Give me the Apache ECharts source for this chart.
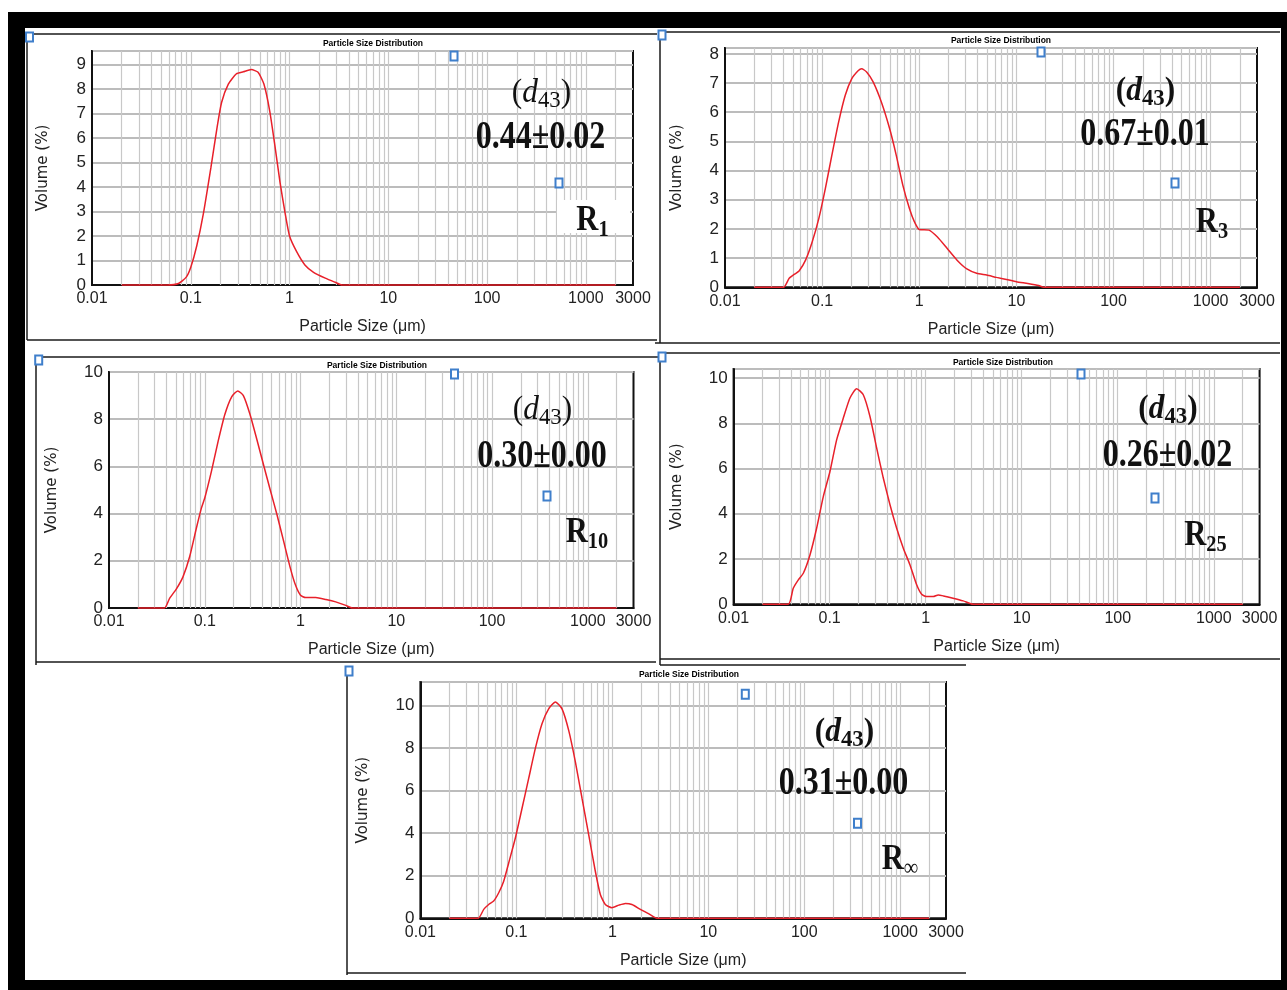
<!DOCTYPE html>
<html>
<head>
<meta charset="utf-8">
<script src="https://cdn.jsdelivr.net/npm/echarts@6/dist/echarts.min.js"></script>
<style>
html,body{margin:0;padding:0;background:#fff;}
#frame{position:absolute;left:8px;top:12px;width:1279px;height:978px;background:#000;}
#inner{position:absolute;left:25px;top:28px;width:1256px;height:952px;background:#fff;}
#c{position:absolute;left:0;top:0;width:1287px;height:990px;}
</style>
</head>
<body>
<div id="frame"></div>
<div id="inner"></div>
<div id="c"></div>
<script>
// ---------- data ----------
const r1Sizes  = [0.02, 0.058, 0.075, 0.09, 0.1, 0.115, 0.134, 0.16, 0.185, 0.205, 0.24, 0.29, 0.34, 0.41, 0.48, 0.55, 0.63, 0.71, 0.8, 0.9, 1.0, 1.18, 1.43, 1.75, 2.3, 2.9, 3.4, 2000];
const r1Volume = [0, 0, 0.06, 0.32, 0.72, 1.6, 2.9, 4.8, 6.45, 7.45, 8.2, 8.62, 8.7, 8.79, 8.68, 8.2, 7.1, 5.7, 4.2, 2.95, 2.0, 1.36, 0.82, 0.52, 0.28, 0.11, 0, 0];

const r3Sizes  = [0.02, 0.04, 0.0458, 0.0515, 0.0579, 0.0677, 0.0791, 0.0925, 0.108, 0.126, 0.148, 0.173, 0.202, 0.236, 0.255, 0.287, 0.335, 0.407, 0.495, 0.579, 0.677, 0.792, 0.89, 1.0, 1.26, 1.53, 1.94, 2.45, 3.09, 3.9, 4.94, 6.25, 7.9, 10, 13.1, 17, 19, 2000];
const r3Volume = [0, 0, 0.31, 0.44, 0.56, 0.94, 1.56, 2.36, 3.39, 4.53, 5.67, 6.58, 7.15, 7.43, 7.49, 7.38, 7.04, 6.35, 5.44, 4.53, 3.5, 2.7, 2.25, 1.98, 1.96, 1.73, 1.33, 0.93, 0.63, 0.48, 0.42, 0.34, 0.27, 0.19, 0.13, 0.06, 0, 0];

const r10Sizes  = [0.02, 0.0379, 0.0428, 0.0504, 0.0592, 0.0695, 0.0817, 0.0922, 0.1, 0.1175, 0.138, 0.162, 0.191, 0.221, 0.253, 0.297, 0.35, 0.41, 0.483, 0.568, 0.668, 0.784, 0.886, 1.0, 1.13, 1.44, 1.84, 2.33, 2.97, 3.49, 2000];
const r10Volume = [0, 0, 0.4, 0.8, 1.32, 2.17, 3.38, 4.23, 4.66, 5.8, 7.07, 8.2, 8.95, 9.2, 9.0, 8.2, 7.14, 6.08, 5.0, 3.95, 2.81, 1.68, 0.97, 0.54, 0.44, 0.44, 0.36, 0.26, 0.11, 0, 0];

const r25Sizes  = [0.02, 0.0371, 0.0418, 0.0472, 0.0532, 0.0624, 0.0732, 0.0859, 0.1008, 0.1183, 0.1388, 0.1628, 0.191, 0.224, 0.263, 0.309, 0.362, 0.425, 0.499, 0.585, 0.687, 0.806, 0.908, 1.02, 1.2, 1.35, 1.53, 1.93, 2.46, 3.13, 2000];
const r25Volume = [0, 0, 0.71, 1.08, 1.37, 2.18, 3.36, 4.76, 5.87, 7.27, 8.23, 9.12, 9.53, 9.26, 8.3, 6.9, 5.58, 4.4, 3.36, 2.48, 1.74, 0.86, 0.44, 0.34, 0.34, 0.41, 0.37, 0.27, 0.15, 0, 0];

const rInfSizes  = [0.02, 0.0399, 0.0457, 0.0515, 0.058, 0.0655, 0.0738, 0.0832, 0.0976, 0.1146, 0.1344, 0.1577, 0.185, 0.217, 0.255, 0.299, 0.351, 0.412, 0.483, 0.567, 0.665, 0.75, 0.845, 0.99, 1.17, 1.37, 1.6, 1.96, 2.38, 2.8, 2.9, 2000];
const rInfVolume = [0, 0, 0.42, 0.65, 0.81, 1.2, 1.74, 2.6, 3.77, 5.17, 6.57, 7.98, 9.14, 9.84, 10.16, 9.84, 8.83, 7.35, 5.64, 3.93, 2.21, 1.12, 0.65, 0.5, 0.62, 0.7, 0.65, 0.42, 0.22, 0.03, 0, 0];

const sampleSubscripts = ['1', '3', '10', '25', '\u221E'];
const d43Values = ['0.44\u00B10.02', '0.67\u00B10.01', '0.30\u00B10.00', '0.26\u00B10.02', '0.31\u00B10.00'];
const yMaxValues = [9.55, 8.2, 10, 10.4, 11.1];
const yIntervals = [1, 1, 2, 2, 2];
const xMin = 0.01, xMax = 3000;

const allSizes = [r1Sizes, r3Sizes, r10Sizes, r25Sizes, rInfSizes];
const allVolumes = [r1Volume, r3Volume, r10Volume, r25Volume, rInfVolume];

// ---------- layout ----------
const layout = [
  {left: 92,    top: 51,  width: 541,   height: 234,   gapY: 41, title: [373, 43.5],  d43: [541.5, 93],  val: [540.5, 138], r: [592.5, 221], boldD: false},
  {left: 725,   top: 48,  width: 532,   height: 239.3, gapY: 40, title: [1001, 41],   d43: [1145.5, 91], val: [1145, 135],  r: [1212, 223],  boldD: true},
  {left: 109,   top: 372, width: 524.5, height: 236,   gapY: 49, title: [377, 366],   d43: [542.5, 410], val: [542, 456.5], r: [587, 533],   boldD: false},
  {left: 733.6, top: 369, width: 526,   height: 235.3, gapY: 49, title: [1003, 362.5],d43: [1168, 409],  val: [1167.5, 456],r: [1205.5, 536],boldD: true},
  {left: 420.4, top: 682, width: 525.6, height: 236.3, gapY: 50, title: [689, 674.5], d43: [844.5, 732], val: [843.5, 784], r: [900, 860],   boldD: true}
];

// vertical grid positions (1..9 x each decade inside the axis range)
const gridSizes = [];
for (let k = -2; k <= 3; k++) {
  for (let m = 1; m <= 9; m++) {
    const v = Number((m * Math.pow(10, k)).toPrecision(3));
    if (v > xMin && v < xMax) gridSizes.push(v);
  }
}

const sans = "'Liberation Sans',Arial,sans-serif";
const serif = "'Liberation Serif','DejaVu Serif',serif";

const grids = [], xAxes = [], yAxes = [], series = [], titles = [], graphics = [];

layout.forEach((p, i) => {
  grids.push({left: p.left, top: p.top, width: p.width, height: p.height, show: true,
    borderColor: '#111', borderWidth: 2, backgroundColor: 'transparent', containLabel: false});
  xAxes.push({
    type: 'log', logBase: 10, gridIndex: i, min: xMin, max: xMax,
    name: 'Particle Size (\u03BCm)', nameLocation: 'middle', nameGap: 34,
    nameTextStyle: {fontFamily: sans, fontSize: 16, color: '#222'},
    axisLine: {show: true, lineStyle: {color: '#111', width: 2}},
    axisTick: {show: false},
    splitLine: {show: false},
    axisLabel: {interval: 0, showMinLabel: true, showMaxLabel: true, margin: 6,
      fontFamily: sans, fontSize: 16, color: '#222',
      formatter: v => String(Number(Number(v).toPrecision(4)))}
  });
  const ymax = yMaxValues[i], yint = yIntervals[i];
  yAxes.push({
    type: 'value', gridIndex: i, min: 0, max: ymax, interval: yint,
    name: 'Volume (%)', nameLocation: 'middle', nameGap: p.gapY, nameRotate: 90,
    nameTextStyle: {fontFamily: "'DejaVu Sans',sans-serif", fontSize: 15, color: '#222'},
    axisLine: {show: true, lineStyle: {color: '#111', width: 2}},
    axisTick: {show: false},
    splitLine: {show: true, lineStyle: {color: '#bcbcbc', width: 2}},
    axisLabel: {margin: 6, fontFamily: sans, fontSize: 17, color: '#222',
      showMaxLabel: (Math.abs(ymax / yint - Math.round(ymax / yint)) < 1e-9)}
  });
  series.push({
    type: 'line', xAxisIndex: i, yAxisIndex: i,
    data: allSizes[i].map((s, j) => [s, allVolumes[i][j]]),
    showSymbol: false, symbol: 'none', smooth: 0.2, clip: false, z: 3,
    silent: true, animation: false,
    lineStyle: {color: '#e8202a', width: 1.5},
    emphasis: {disabled: true},
    markLine: {
      silent: true, symbol: ['none', 'none'], animation: false, z: 1,
      label: {show: false}, emphasis: {disabled: true},
      lineStyle: {color: '#c8c8c8', width: 1.2, type: 'solid'},
      data: gridSizes.map(v => ({xAxis: v}))
    }
  });
  titles.push({
    text: 'Particle Size Distribution', left: p.title[0], top: p.title[1],
    textAlign: 'center', textVerticalAlign: 'middle', padding: 0,
    textStyle: {fontFamily: sans, fontWeight: 'bold', fontSize: 8.5, color: '#000'}
  });

  const bw = p.boldD ? 'bold' : 'normal';
  graphics.push({
    type: 'text', x: p.d43[0], y: p.d43[1], scaleX: 0.95, z: 100,
    style: {
      text: '{p|(}{d|d}{s|43}{p|)}',
      align: 'center', verticalAlign: 'middle', textAlign: 'center', textVerticalAlign: 'middle',
      fill: '#111',
      rich: {
        p: {fontFamily: serif, fontSize: 33, fontWeight: bw, lineHeight: 40, verticalAlign: 'middle', fill: '#111'},
        d: {fontFamily: serif, fontSize: 33, fontWeight: bw, fontStyle: 'italic', lineHeight: 40, verticalAlign: 'middle', fill: '#111'},
        s: {fontFamily: serif, fontSize: 24, fontWeight: bw, lineHeight: 24, verticalAlign: 'bottom', fill: '#111'}
      }
    }
  });
  graphics.push({
    type: 'text', x: p.val[0], y: p.val[1], scaleX: 0.82, z: 100,
    style: {
      text: d43Values[i], fontFamily: serif, fontSize: 39, fontWeight: 'bold',
      align: 'center', verticalAlign: 'middle', textAlign: 'center', textVerticalAlign: 'middle',
      fill: '#111'
    }
  });
  const subW = (i === 4) ? 'normal' : 'bold';
  graphics.push({
    type: 'text', x: p.r[0], y: p.r[1], scaleX: 0.85, z: 100,
    style: {
      text: '{r|R}{s|' + sampleSubscripts[i] + '}',
      align: 'center', verticalAlign: 'middle', textAlign: 'center', textVerticalAlign: 'middle',
      fill: '#111',
      rich: {
        r: {fontFamily: serif, fontSize: 36, fontWeight: 'bold', lineHeight: 42, verticalAlign: 'middle', fill: '#111'},
        s: {fontFamily: serif, fontSize: 24, fontWeight: subW, lineHeight: 24, verticalAlign: 'bottom', fill: '#111'}
      }
    }
  });
});

// white box behind R1 label
graphics.push({type: 'rect', z: 50, shape: {x: 557, y: 200, width: 73, height: 33}, style: {fill: '#fff'}});

// panel outlines
const panelLines = [
  [27, 34, 657, 34], [27, 34, 27, 340], [27, 340, 657, 340],
  [660, 32, 1280, 32], [660, 32, 660, 343], [655, 343, 1280, 343],
  [36, 357, 658, 357], [36, 357, 36, 665], [36, 662, 656, 662],
  [660, 353, 1280, 353], [660, 353, 660, 665], [660, 659, 1280, 659],
  [660, 665, 966, 665], [347, 668, 347, 975], [347, 973, 966, 973]
];
panelLines.forEach(l => graphics.push({type: 'line', z: 20, shape: {x1: l[0], y1: l[1], x2: l[2], y2: l[3]},
  style: {stroke: '#1a1a1a', lineWidth: 1.5}}));

// small blue object handles
const handles = [[29.5, 37], [454, 56], [559, 183], [662, 35], [1041, 52], [1175, 183],
  [38.7, 360], [454.5, 374], [547, 496], [662, 357], [1081, 374], [1155, 498],
  [349, 671], [745.3, 694.3], [857.5, 823.3]];
handles.forEach(h => graphics.push({type: 'rect', z: 110, shape: {x: h[0] - 3.5, y: h[1] - 4.5, width: 7, height: 9},
  style: {fill: '#fff', stroke: '#3f7fcb', lineWidth: 2}}));

const chart = echarts.init(document.getElementById('c'), null, {renderer: 'canvas', width: 1287, height: 990});
chart.setOption({
  backgroundColor: 'transparent',
  animation: false,
  title: titles,
  grid: grids,
  xAxis: xAxes,
  yAxis: yAxes,
  series: series,
  graphic: {elements: graphics}
});
</script>
</body>
</html>
